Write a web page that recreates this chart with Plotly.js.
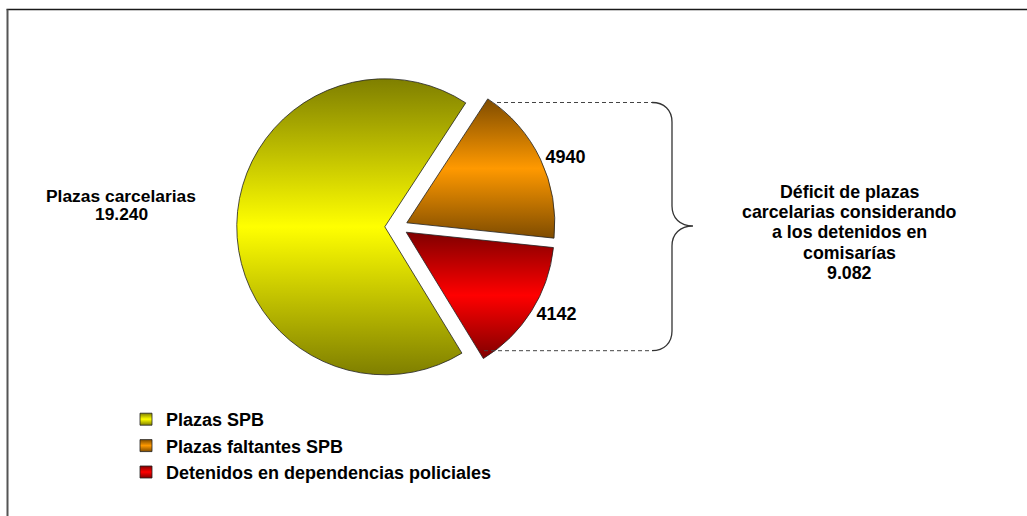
<!DOCTYPE html>
<html>
<head>
<meta charset="utf-8">
<script src="https://cdn.plot.ly/plotly-3.0.1.min.js"></script>
<style>
  html, body { margin: 0; padding: 0; background: #ffffff; }
  #chart { width: 1027px; height: 516px; }
</style>
</head>
<body>
<div id="chart"></div>
<script>
// ---- data ----
const categories = ['Plazas SPB', 'Plazas faltantes SPB', 'Detenidos en dependencias policiales'];
const values = [19240, 4940, 4142];
const leftLabelLines = ['Plazas carcelarias', '19.240'];
const rightLabelLines = ['Déficit de plazas', 'carcelarias considerando', 'a los detenidos en', 'comisarías', '9.082'];

// ---- styling ----
const W = 1027, H = 516;
const midColors = ['#ffff00', '#ff9900', '#ff0000'];
const darkColors = ['#7f7f00', '#7f4c00', '#800000'];
const FONT = 'Liberation Sans, Arial, Helvetica, sans-serif';

function px(x) { return x / W; }
function py(y) { return 1 - y / H; }

const trace = {
  type: 'pie',
  labels: categories,
  values: values,
  sort: false,
  direction: 'clockwise',
  rotation: 148.6,
  pull: [0.089, 0.066, 0.066],
  marker: { colors: midColors, line: { color: '#222222', width: 0.8 } },
  textinfo: 'value',
  textposition: ['none', 'outside', 'outside'],
  textfont: { family: FONT, size: 18, color: '#000000', weight: 'bold' },
  domain: { x: [0.23055, 0.54447], y: [0.24768, 0.87248] },
  hoverinfo: 'label+value',
  showlegend: true
};

const annotations = [];
const leftLineY = [195.7, 214.3];
leftLabelLines.forEach((t, i) => annotations.push({
  xref: 'paper', yref: 'paper', x: px(121), y: py(leftLineY[i]),
  xanchor: 'center', yanchor: 'middle', showarrow: false, text: t,
  font: { family: FONT, size: 17.4, color: '#000000', weight: 'bold' }
}));
const rightLineY = [191.5, 211.8, 232.2, 252.5, 272.8];
rightLabelLines.forEach((t, i) => annotations.push({
  xref: 'paper', yref: 'paper', x: px(849), y: py(rightLineY[i]),
  xanchor: 'center', yanchor: 'middle', showarrow: false, text: t,
  font: { family: FONT, size: 17.8, color: '#000000', weight: 'bold' }
}));

function pathPx(cmds) {
  return cmds.map(c => {
    const letter = c[0];
    const nums = [];
    for (let k = 1; k < c.length; k += 2) nums.push(px(c[k]).toFixed(5) + ',' + py(c[k + 1]).toFixed(5));
    return letter + nums.join(' ');
  }).join(' ');
}

const braceColor = '#333333';
const shapes = [
  { type: 'line', xref: 'paper', yref: 'paper', x0: px(6.5), x1: 1, y0: py(9.5), y1: py(9.5),
    line: { color: '#1a1a1a', width: 1.5 } },
  { type: 'line', xref: 'paper', yref: 'paper', x0: px(7.5), x1: px(7.5), y0: py(9.5), y1: 0,
    line: { color: '#555555', width: 2 } },
  { type: 'line', xref: 'paper', yref: 'paper', x0: px(497), x1: px(652), y0: py(102.5), y1: py(102.5),
    line: { color: '#444444', width: 1, dash: '4px,3px' } },
  { type: 'line', xref: 'paper', yref: 'paper', x0: px(484), x1: px(652), y0: py(350.7), y1: py(350.7),
    line: { color: '#444444', width: 1, dash: '4px,3px' } },
  { type: 'path', xref: 'paper', yref: 'paper',
    path: pathPx([
      ['M', 652, 102.5],
      ['C', 664, 102.5, 672, 110, 672, 122],
      ['L', 672, 206],
      ['C', 672, 218, 680, 226, 693, 226],
      ['C', 680, 226, 672, 234, 672, 246],
      ['L', 672, 331],
      ['C', 672, 343, 664, 350.7, 652, 350.7]
    ]),
    line: { color: braceColor, width: 1.3 } }
];

const layout = {
  width: W, height: H,
  margin: { l: 0, r: 0, t: 0, b: 0 },
  paper_bgcolor: '#ffffff',
  plot_bgcolor: '#ffffff',
  showlegend: true,
  legend: {
    x: px(126), y: py(401), xanchor: 'left', yanchor: 'top',
    bgcolor: 'rgba(0,0,0,0)',
    font: { family: FONT, size: 18, color: '#000000', weight: 'bold' },
    traceorder: 'normal'
  },
  annotations: annotations,
  shapes: shapes
};

function applyGradients(gd) {
  const svg = gd.querySelector('svg.main-svg');
  if (!svg) return;
  let defs = svg.querySelector('defs');
  if (!defs) { defs = document.createElementNS('http://www.w3.org/2000/svg', 'defs'); svg.insertBefore(defs, svg.firstChild); }
  midColors.forEach((c, i) => {
    const id = 'sliceGrad' + i;
    if (defs.querySelector('#' + id)) return;
    const g = document.createElementNS('http://www.w3.org/2000/svg', 'linearGradient');
    g.setAttribute('id', id);
    g.setAttribute('x1', '0'); g.setAttribute('y1', '0');
    g.setAttribute('x2', '0'); g.setAttribute('y2', '1');
    [[0, darkColors[i]], [0.5, c], [1, darkColors[i]]].forEach(s => {
      const st = document.createElementNS('http://www.w3.org/2000/svg', 'stop');
      st.setAttribute('offset', s[0]);
      st.setAttribute('stop-color', s[1]);
      g.appendChild(st);
    });
    defs.appendChild(g);
  });
  gd.querySelectorAll('g.slice').forEach((s, i) => {
    const p = s.querySelector('path.surface');
    if (p && i < midColors.length) p.style.fill = 'url(#sliceGrad' + i + ')';
  });
  gd.querySelectorAll('g.legend g.traces').forEach((t, i) => {
    const p = t.querySelector('path.legendpie');
    if (p && i < midColors.length) p.style.fill = 'url(#sliceGrad' + i + ')';
  });
}

const gd = document.getElementById('chart');
Plotly.newPlot(gd, [trace], layout, { staticPlot: true, displayModeBar: false }).then(() => {
  applyGradients(gd);
  gd.on('plotly_afterplot', () => applyGradients(gd));
});
</script>
</body>
</html>
